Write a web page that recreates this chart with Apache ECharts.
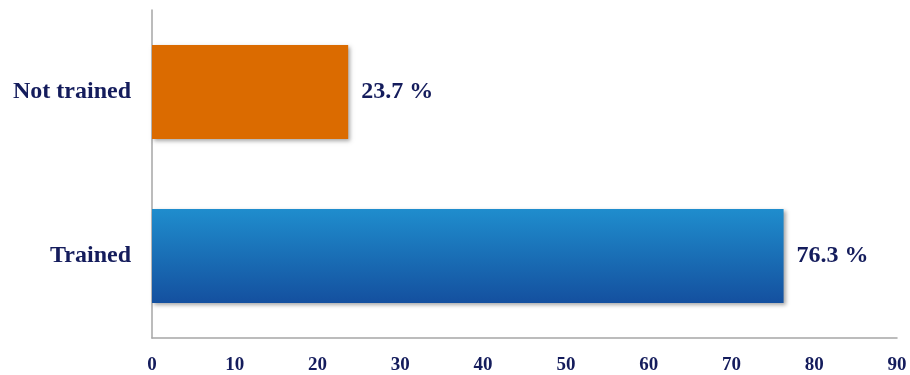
<!DOCTYPE html>
<html>
<head>
<meta charset="utf-8">
<script src="https://cdn.jsdelivr.net/npm/echarts@6/dist/echarts.min.js"></script>
<style>
  html, body { margin: 0; padding: 0; background: #ffffff; }
  #chart { width: 910px; height: 375px; }
</style>
</head>
<body>
<div id="chart"></div>
<script>
// Training status shares (percent)
const categories = ['Trained', 'Not trained'];
const values = [76.3, 23.7];
const xTicks = [0, 10, 20, 30, 40, 50, 60, 70, 80, 90];

const textColor = '#141c5c';
const serif = '"Liberation Serif", "Times New Roman", serif';

const barStyles = [
  {
    color: new echarts.graphic.LinearGradient(0, 0, 0, 1, [
      { offset: 0, color: '#1f8dcd' },
      { offset: 1, color: '#14509f' }
    ])
  },
  { color: '#db6b00' }
];

const chart = echarts.init(document.getElementById('chart'));
chart.setOption({
  animation: false,
  grid: { left: 152, right: 13, top: 10, bottom: 35, containLabel: false },
  xAxis: {
    type: 'value',
    min: xTicks[0],
    max: xTicks[xTicks.length - 1],
    interval: 10,
    axisLine: { show: true, lineStyle: { color: '#a6a6a6', width: 1.5 } },
    axisTick: { show: false },
    splitLine: { show: false },
    axisLabel: {
      margin: 18,
      color: textColor,
      fontFamily: serif,
      fontWeight: 'bold',
      fontSize: 19
    }
  },
  yAxis: {
    type: 'category',
    data: categories,
    axisLine: { show: true, lineStyle: { color: '#a6a6a6', width: 1.5 } },
    axisTick: { show: false },
    axisLabel: {
      margin: 21,
      color: textColor,
      fontFamily: serif,
      fontWeight: 'bold',
      fontSize: 24
    }
  },
  series: [{
    type: 'bar',
    barWidth: 94,
    data: values.map((v, i) => ({
      value: v,
      itemStyle: Object.assign({
        shadowColor: 'rgba(0,0,0,0.35)',
        shadowBlur: 4,
        shadowOffsetX: 2,
        shadowOffsetY: 2
      }, barStyles[i])
    })),
    label: {
      show: true,
      position: 'right',
      distance: 13,
      color: textColor,
      fontFamily: serif,
      fontWeight: 'bold',
      fontSize: 24,
      formatter: p => p.value.toFixed(1) + ' %'
    }
  }]
});
</script>
</body>
</html>
